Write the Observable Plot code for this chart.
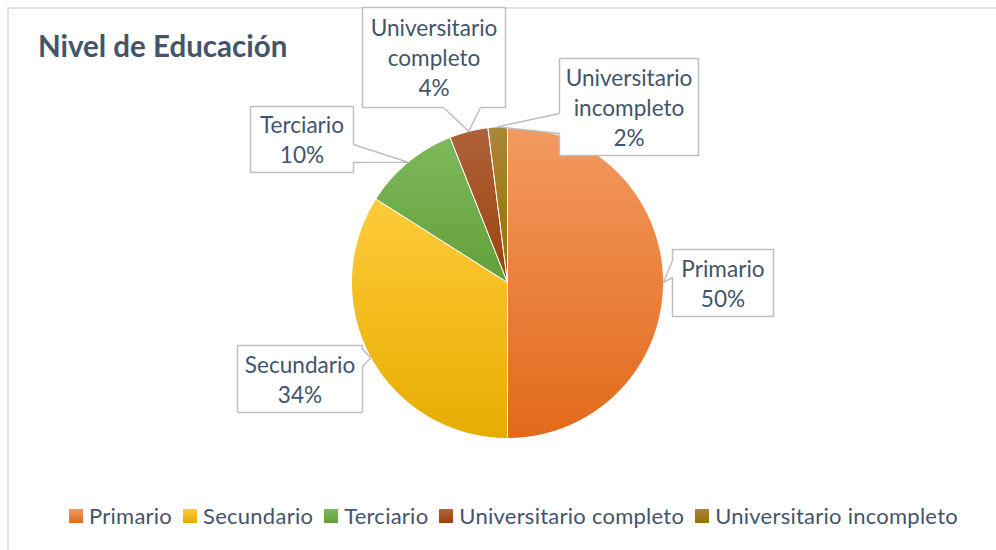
<!DOCTYPE html>
<html>
<head>
<meta charset="utf-8">
<script src="https://cdn.jsdelivr.net/npm/d3@7"></script>
<script src="https://cdn.jsdelivr.net/npm/@observablehq/plot@0.6"></script>
<style>
  body { margin: 0; background: #fff; overflow: hidden; }
  #wrap { position: relative; width: 996px; height: 550px; overflow: hidden; font-family: Lato, "Open Sans", sans-serif; }
  #frame { position: absolute; left: 7px; top: 7px; width: 1100px; height: 700px; border: 2px solid #dfe3e8; box-sizing: border-box; }
  #chart { position: absolute; left: 0; top: 0; }
  #title { position: absolute; left: 38px; top: 31px; font-weight: bold; font-size: 29.5px; line-height: 1; color: #44546A; white-space: nowrap; }
  #legend { position: absolute; left: 69px; top: 505px; display: flex; align-items: center; font-size: 22px; line-height: 1; letter-spacing: 0.25px; color: #44546A; white-space: nowrap; }
  #legend .item { display: flex; align-items: center; margin-right: 11px; }
  #legend .sw { width: 14px; height: 14px; margin-right: 6px; }
</style>
</head>
<body>
<div id="wrap">
  <div id="frame"></div>
  <div id="chart"></div>
  <div id="title">Nivel de Educación</div>
  <div id="legend"></div>
</div>
<script>
// ---- data ----
const categories = ["Primario", "Secundario", "Terciario", "Universitario completo", "Universitario incompleto"];
const values = [50, 34, 10, 4, 2];

// ---- styles ----
const gradTop = ["#F39A60", "#FFCB3A", "#7EB95B", "#B0623A", "#AA8638"];
const gradBottom = ["#E2691A", "#E5AC00", "#62A03A", "#9A420C", "#977104"];

// ---- layout ----
const W = 996, H = 550, cx = 507, cy = 282, r = 156;
// callout boxes [x0, y0, x1, y1], side holding the pointer and its base span
const boxes = [
  { box: [672, 249, 773, 316], side: "left",   base: [260, 277] },
  { box: [237, 345, 362, 412], side: "right",  base: [349, 366] },
  { box: [250, 106, 353, 172], side: "right",  base: [144, 162] },
  { box: [362, 7, 505, 107],   side: "bottom", base: [443, 480] },
  { box: [559, 58, 698, 155],  side: "left",   base: [113, 133] }
];

const rows = categories.map((name, i) => ({ name, value: values[i] }));
const arcs = d3.pie().sort(null).value(d => d.value)(rows);

// slice outlines
const slicePts = arcs.flatMap(p => {
  const n = Math.max(2, Math.ceil((p.endAngle - p.startAngle) / (Math.PI / 180)));
  const pts = [{ name: p.data.name, x: cx, y: cy }];
  for (let i = 0; i <= n; i++) {
    const a = p.startAngle + (p.endAngle - p.startAngle) * i / n;
    pts.push({ name: p.data.name, x: cx + r * Math.sin(a), y: cy - r * Math.cos(a) });
  }
  pts.push({ name: p.data.name, x: cx, y: cy });
  return pts;
});

// callouts: pointer tip at the slice's mid-angle on the rim
const calloutPts = [];
const labels = [];
arcs.forEach((p, i) => {
  const a = (p.startAngle + p.endAngle) / 2;
  const tip = [cx + r * Math.sin(a), cy - r * Math.cos(a)];
  const { box: [x0, y0, x1, y1], side, base: [b0, b1] } = boxes[i];
  const pts = [[x0, y0], [x1, y0]];
  if (side === "right") pts.push([x1, b0], tip, [x1, b1]);
  pts.push([x1, y1]);
  if (side === "bottom") pts.push([b1, y1], tip, [b0, y1]);
  pts.push([x0, y1]);
  if (side === "left") pts.push([x0, b1], tip, [x0, b0]);
  pts.push([x0, y0]);
  pts.forEach(([x, y]) => calloutPts.push({ id: i, x, y }));
  labels.push({
    x: (x0 + x1) / 2,
    y: (y0 + y1) / 2 - 1,
    text: p.data.name.replace(" ", "\n") + "\n" + p.data.value + "%"
  });
});

const plot = Plot.plot({
  width: W,
  height: H,
  margin: 0,
  x: { type: "identity", axis: null },
  y: { type: "identity", axis: null },
  color: { domain: categories, range: categories.map((_, i) => `url(#grad${i})`) },
  style: { background: "transparent", overflow: "visible" },
  marks: [
    Plot.line(slicePts, { x: "x", y: "y", z: "name", fill: "name", stroke: "white", strokeWidth: 1, strokeLinejoin: "round" }),
    Plot.line(calloutPts, { x: "x", y: "y", z: "id", fill: "white", stroke: "#BFBFBF", strokeWidth: 1.5, strokeLinejoin: "miter" }),
    Plot.text(labels, { x: "x", y: "y", text: "text", fontSize: 22.6, lineHeight: 1.33, fill: "#44546A", fontFamily: "Lato, sans-serif", textAnchor: "middle" })
  ]
});

// gradients
const svg = d3.select(plot);
const defs = svg.insert("defs", ":first-child");
categories.forEach((_, i) => {
  const g = defs.append("linearGradient").attr("id", `grad${i}`).attr("x1", 0).attr("y1", 0).attr("x2", 0).attr("y2", 1);
  g.append("stop").attr("offset", "0%").attr("stop-color", gradTop[i]);
  g.append("stop").attr("offset", "100%").attr("stop-color", gradBottom[i]);
});
document.getElementById("chart").appendChild(plot);

// legend
const legend = d3.select("#legend");
categories.forEach((name, i) => {
  const it = legend.append("div").attr("class", "item");
  it.append("div").attr("class", "sw").style("background", `linear-gradient(${gradTop[i]}, ${gradBottom[i]})`);
  it.append("span").text(name);
});
</script>
</body>
</html>
